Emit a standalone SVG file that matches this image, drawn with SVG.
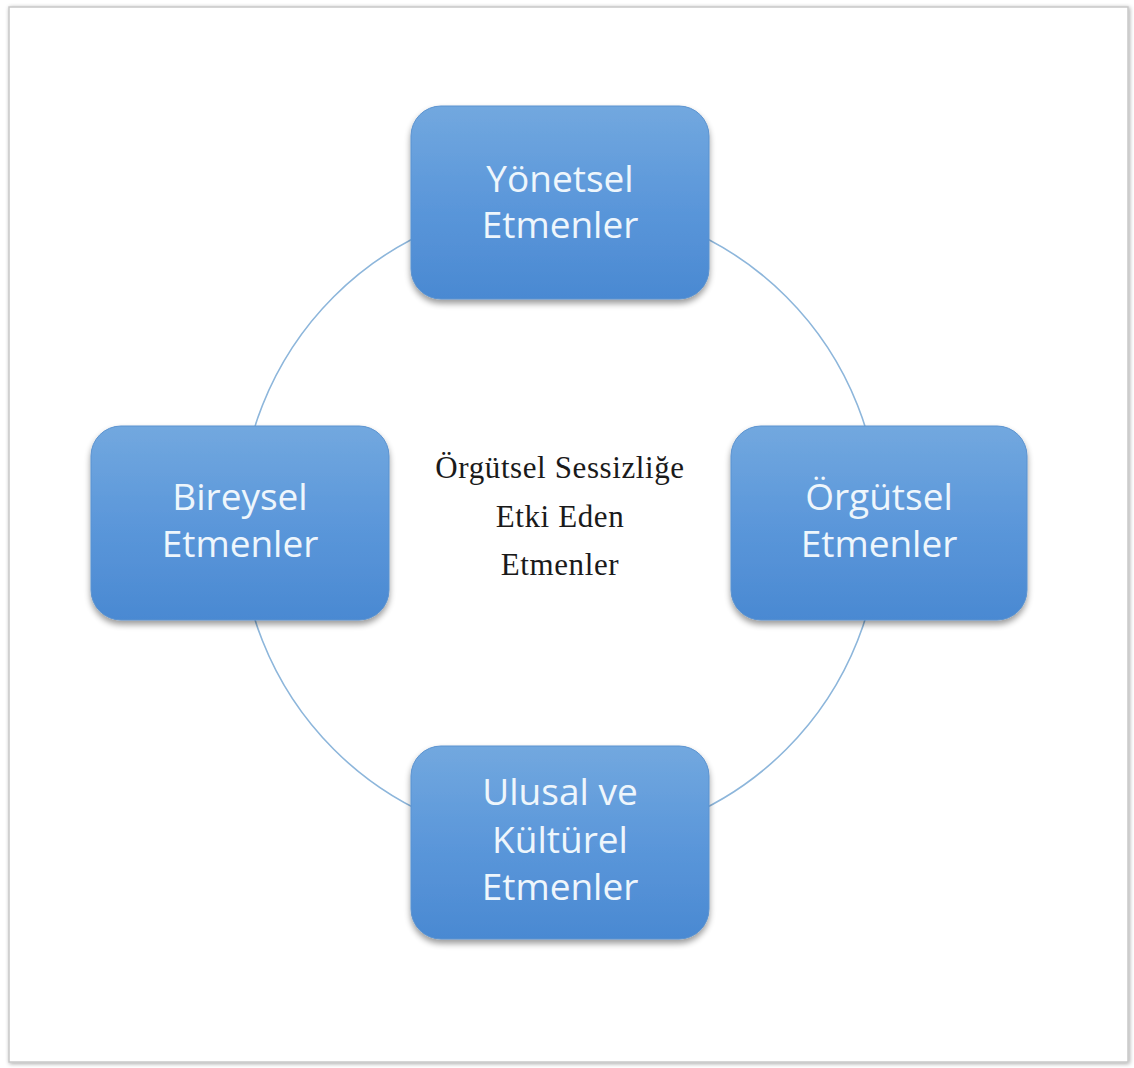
<svg xmlns="http://www.w3.org/2000/svg" width="1134" height="1068" viewBox="0 0 1134 1068">
  <defs>
    <linearGradient id="boxFill" x1="0" y1="0" x2="0" y2="1">
      <stop offset="0" stop-color="#72a8df"/>
      <stop offset="0.5" stop-color="#5b97da"/>
      <stop offset="1" stop-color="#4a89d2"/>
    </linearGradient>
    <filter id="boxShadow" x="-10%" y="-10%" width="120%" height="125%">
      <feGaussianBlur in="SourceAlpha" stdDeviation="3"/>
      <feOffset dx="0" dy="4" result="b"/>
      <feComponentTransfer><feFuncA type="linear" slope="0.4"/></feComponentTransfer>
      <feMerge><feMergeNode/><feMergeNode in="SourceGraphic"/></feMerge>
    </filter>
    <filter id="frameShadow" x="-2%" y="-2%" width="104%" height="104%">
      <feGaussianBlur in="SourceAlpha" stdDeviation="2"/>
      <feOffset dx="1" dy="1"/>
      <feComponentTransfer><feFuncA type="linear" slope="0.35"/></feComponentTransfer>
      <feMerge><feMergeNode/><feMergeNode in="SourceGraphic"/></feMerge>
    </filter>
  </defs>
  <style>
    .box { fill: url(#boxFill); stroke: #5a92cf; stroke-width: 1; filter: url(#boxShadow); }
    .label { font-family: "Open Sans", "Noto Sans", sans-serif; font-size: 37px; fill: #eef6fc; text-anchor: middle; }
    .center { font-family: "Liberation Serif", "Times New Roman", serif; font-size: 31px; letter-spacing: 0.6px; fill: #1a1a1a; text-anchor: middle; }
    .ring { fill: none; stroke: #8db6db; stroke-width: 1.6; }
  </style>

  <rect width="1134" height="1068" fill="#ffffff"/>
  <rect x="9" y="7" width="1119" height="1055" fill="#ffffff" stroke="#c8c8c8" stroke-width="1.5" filter="url(#frameShadow)"/>

  <g id="connectors">
    <circle class="ring" cx="560" cy="523" r="320"/>
  </g>

  <g id="center-label">
    <text class="center" x="560" y="478">Örgütsel Sessizliğe</text>
    <text class="center" x="560" y="527">Etki Eden</text>
    <text class="center" x="560" y="575">Etmenler</text>
  </g>

  <g id="node-yonetsel">
    <rect class="box" x="411" y="106" width="298" height="193" rx="30" ry="30"/>
    <text class="label" x="560" y="192">Yönetsel</text>
    <text class="label" x="560" y="238">Etmenler</text>
  </g>

  <g id="node-orgutsel">
    <rect class="box" x="731" y="426" width="296" height="194" rx="30" ry="30"/>
    <text class="label" x="879" y="510">Örgütsel</text>
    <text class="label" x="879" y="557">Etmenler</text>
  </g>

  <g id="node-bireysel">
    <rect class="box" x="91" y="426" width="298" height="194" rx="30" ry="30"/>
    <text class="label" x="240" y="510">Bireysel</text>
    <text class="label" x="240" y="557">Etmenler</text>
  </g>

  <g id="node-ulusal">
    <rect class="box" x="411" y="746" width="298" height="193" rx="30" ry="30"/>
    <text class="label" x="560" y="805">Ulusal ve</text>
    <text class="label" x="560" y="853">Kültürel</text>
    <text class="label" x="560" y="900">Etmenler</text>
  </g>
</svg>
